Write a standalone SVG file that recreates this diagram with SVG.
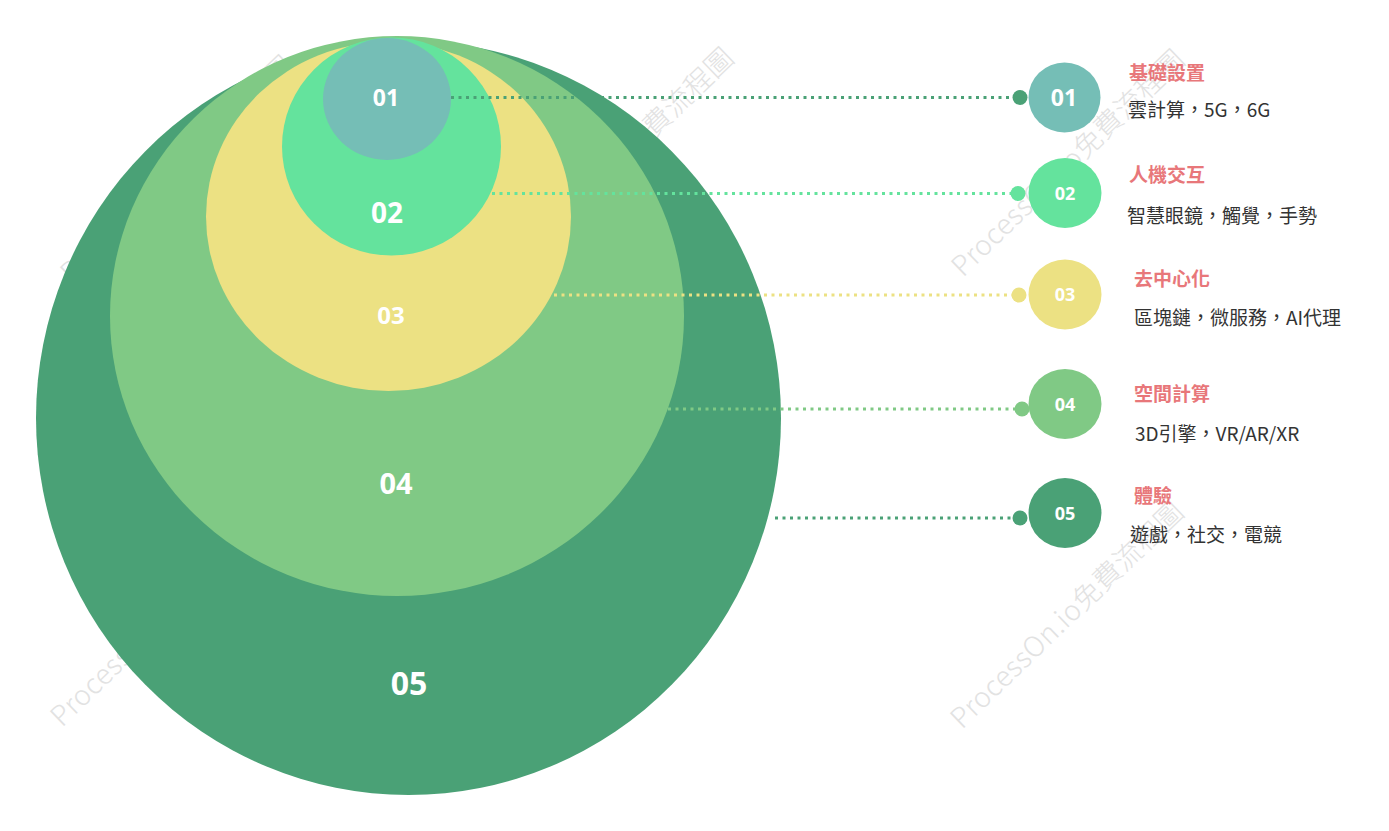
<svg xmlns="http://www.w3.org/2000/svg" width="1389" height="831" viewBox="0 0 1389 831">
<style>
.wm{font-family:"Noto Sans CJK TC","Noto Sans",sans-serif;font-size:28px;font-weight:300;fill:#e2e2e2}
.big{font-family:"Open Sans","Noto Sans",sans-serif;font-weight:700;fill:#ffffff;text-anchor:middle}
.num{font-family:"Open Sans","Noto Sans",sans-serif;font-weight:700;fill:#ffffff;text-anchor:middle;font-size:18px}
.ttl{font-family:"Noto Sans CJK TC","Noto Sans",sans-serif;font-weight:700;fill:#e8777a;font-size:19px}
.dsc{font-family:"Noto Sans CJK TC","Noto Sans",sans-serif;font-weight:400;fill:#333333;font-size:19px}
.ln{fill:none;stroke-width:3;stroke-dasharray:3 4.5}
</style>
<rect width="1389" height="831" fill="#ffffff"/>
<g id="watermarks">
<text class="wm" x="72" y="284" textLength="311" transform="rotate(-44 72 284)">ProcessOn.io免費流程圖</text>
<text class="wm" x="512" y="276" textLength="311" transform="rotate(-44 512 276)">ProcessOn.io免費流程圖</text>
<text class="wm" x="963" y="278" textLength="311" transform="rotate(-44 963 278)">ProcessOn.io免費流程圖</text>
<text class="wm" x="62" y="728" textLength="311" transform="rotate(-44 62 728)">ProcessOn.io免費流程圖</text>
<text class="wm" x="962" y="730" textLength="311" transform="rotate(-44 962 730)">ProcessOn.io免費流程圖</text>
</g>
<g id="ring05"><ellipse cx="408.5" cy="418" rx="372.5" ry="377" fill="#4aa176"/><text class="big" x="409" y="695" font-size="32">05</text></g>
<g id="ring04"><ellipse cx="397" cy="316" rx="287" ry="280" fill="#80c985"/><text class="big" x="396" y="494" font-size="29">04</text></g>
<g id="ring03"><ellipse cx="388.5" cy="216.5" rx="182.5" ry="174.5" fill="#ece183"/><text class="big" x="391" y="324" font-size="24">03</text></g>
<g id="ring02"><ellipse cx="391.5" cy="146.5" rx="109.5" ry="109" fill="#64e39d"/><text class="big" x="387" y="223" font-size="28">02</text></g>
<g id="ring01"><ellipse cx="387" cy="99" rx="64" ry="61" fill="#75beb6"/><text class="big" x="386" y="106" font-size="23">01</text></g>
<g id="connectors">
<line class="ln" x1="451" y1="97.5" x2="1013" y2="97.5" stroke="#4aa176"/>
<circle cx="1020" cy="97.5" r="7.5" fill="#4aa176"/>
<line class="ln" x1="492" y1="193.5" x2="1011" y2="193.5" stroke="#64e39d"/>
<circle cx="1018" cy="193.5" r="7.5" fill="#64e39d"/>
<line class="ln" x1="554" y1="295" x2="1012" y2="295" stroke="#ece183"/>
<circle cx="1019" cy="295" r="7.5" fill="#ece183"/>
<line class="ln" x1="668" y1="409" x2="1015" y2="409" stroke="#80c985"/>
<circle cx="1022" cy="409" r="7.5" fill="#80c985"/>
<line class="ln" x1="775" y1="518" x2="1013" y2="518" stroke="#4aa176"/>
<circle cx="1020" cy="518" r="7.5" fill="#4aa176"/>
</g>
<g id="item01"><ellipse cx="1064.5" cy="97.5" rx="36" ry="35" fill="#75beb6"/><text class="big" x="1064" y="106" font-size="23">01</text>
<text class="ttl" x="1129" y="80">基礎設置</text><text class="dsc" x="1128" y="117">雲計算，5G，6G</text></g>
<g id="item02"><ellipse cx="1065" cy="193" rx="36.5" ry="35" fill="#64e39d"/><text class="num" x="1065" y="199.5">02</text>
<text class="ttl" x="1129" y="182">人機交互</text><text class="dsc" x="1127" y="223">智慧眼鏡，觸覺，手勢</text></g>
<g id="item03"><ellipse cx="1065" cy="294.5" rx="36.5" ry="35" fill="#ece183"/><text class="num" x="1065" y="301">03</text>
<text class="ttl" x="1134" y="286">去中心化</text><text class="dsc" x="1134" y="325">區塊鏈，微服務，AI代理</text></g>
<g id="item04"><ellipse cx="1065" cy="404" rx="36.5" ry="35" fill="#80c985"/><text class="num" x="1065" y="410.5">04</text>
<text class="ttl" x="1134" y="401">空間計算</text><text class="dsc" x="1135" y="441">3D引擎，VR/AR/XR</text></g>
<g id="item05"><ellipse cx="1065" cy="513" rx="36.5" ry="35" fill="#4aa176"/><text class="num" x="1065" y="519.5">05</text>
<text class="ttl" x="1134" y="503">體驗</text><text class="dsc" x="1130" y="542">遊戲，社交，電競</text></g>
</svg>
